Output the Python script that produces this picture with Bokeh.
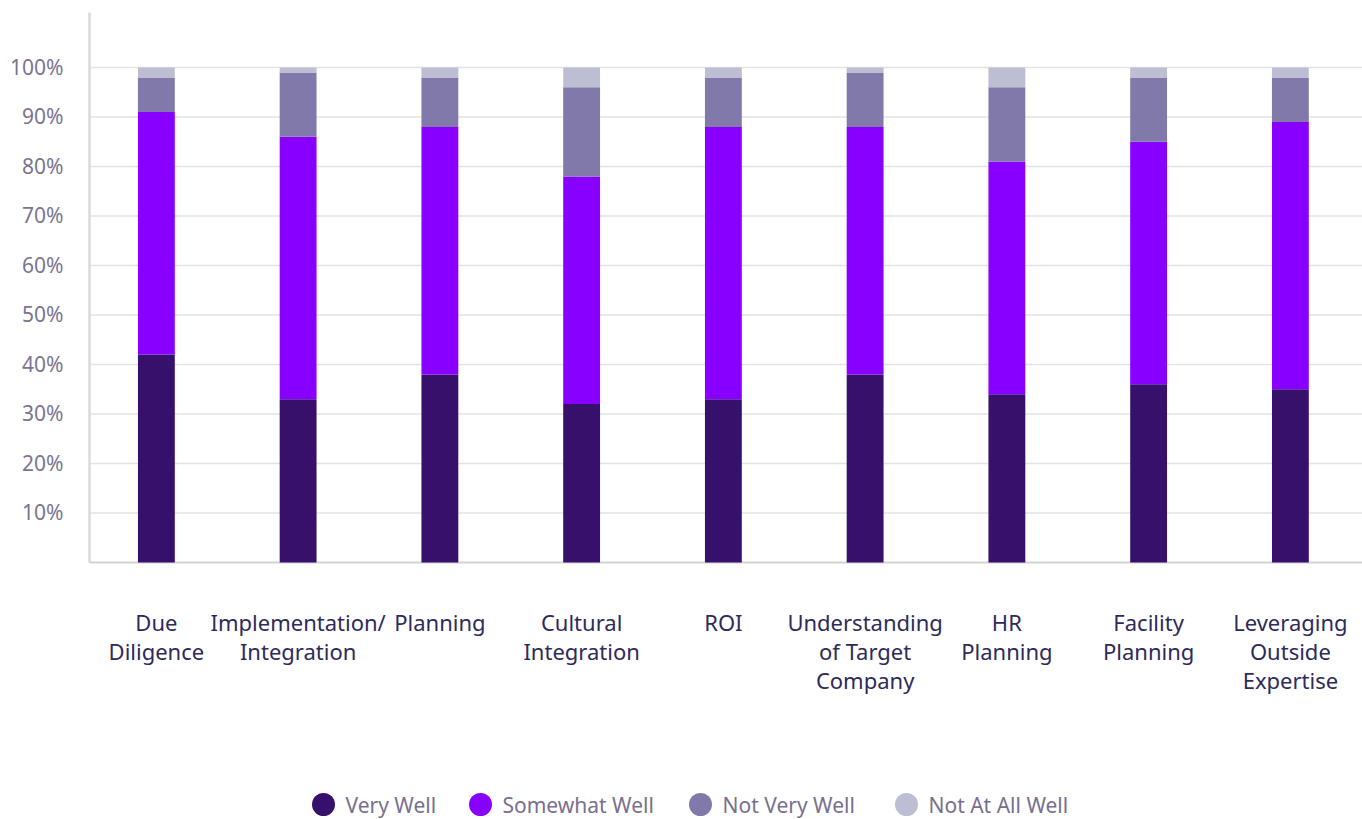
from bokeh.plotting import figure
from bokeh.models import Range1d, ColumnDataSource
from bokeh.core.properties import value
from bokeh.embed import file_html
from bokeh.resources import INLINE

# ---------------- data ----------------
categories = ["Due\nDiligence", "Implementation/\nIntegration", "Planning",
              "Cultural\nIntegration", "ROI", "Understanding\nof Target\nCompany",
              "HR\nPlanning", "Facility\nPlanning", "Leveraging\nOutside\nExpertise"]
very_well = [42, 33, 38, 32, 33, 38, 34, 36, 35]
somewhat_well = [49, 53, 50, 46, 55, 50, 47, 49, 54]
not_very_well = [7, 13, 10, 18, 10, 11, 15, 13, 9]
not_at_all_well = [2, 1, 2, 4, 2, 1, 4, 2, 2]
series_names = ["Very Well", "Somewhat Well", "Not Very Well", "Not At All Well"]
y_ticks = [10, 20, 30, 40, 50, 60, 70, 80, 90, 100]
y_tick_labels = [f"{t}%" for t in y_ticks]

# ---------------- style / layout ----------------
series_keys = ["very_well", "somewhat_well", "not_very_well", "not_at_all_well"]
colors = ["#37106b", "#8800ff", "#8179a9", "#bdbdd3"]
FONT = "Noto Sans"
W, H = 1362, 819
CAT_ORIGIN_PX = 85       # x pixel where the first category slot starts
AXIS_PX = 89             # x pixel of the value axis line
ZERO_PX = 562            # y pixel of 0%
PX_PER_UNIT_Y = 4.95     # pixels per percentage point
PX_PER_CAT = 141.75
TOP_PCT = (ZERO_PX - 12) / PX_PER_UNIT_Y   # axis line top

n = len(categories)
xs = [i + 0.5 for i in range(n)]
axis_x = (AXIS_PX - CAT_ORIGIN_PX) / PX_PER_CAT
right_x = (W - CAT_ORIGIN_PX) / PX_PER_CAT

src = ColumnDataSource(dict(x=xs, very_well=very_well, somewhat_well=somewhat_well,
                            not_very_well=not_very_well, not_at_all_well=not_at_all_well,
                            label=categories))

p = figure(width=W, height=H, output_backend="svg", toolbar_location=None,
           x_axis_location=None, y_axis_location=None,
           x_range=Range1d(-CAT_ORIGIN_PX / PX_PER_CAT, right_x),
           y_range=Range1d(-(H - ZERO_PX) / PX_PER_UNIT_Y, ZERO_PX / PX_PER_UNIT_Y),
           min_border=0)
p.outline_line_color = None
p.xgrid.visible = False
p.ygrid.visible = False

# gridlines
p.segment(x0=axis_x, x1=right_x, y0=y_ticks, y1=y_ticks, line_color="#e3e3e3", line_width=1.5)
# baseline
p.segment(x0=[axis_x], x1=[right_x], y0=[0], y1=[0], line_color="#d3d3d3", line_width=2)
# value axis line
p.segment(x0=[axis_x], x1=[axis_x], y0=[0], y1=[TOP_PCT], line_color="#dadada", line_width=2.5)

# stacked bars
p.vbar_stack(series_keys, x="x", width=0.26, source=src, color=colors, line_color=None)

# y tick labels
p.text(x=[axis_x] * len(y_ticks), y=y_ticks, text=y_tick_labels, x_offset=-26, y_offset=-1,
       text_align="right", text_baseline="alphabetic",
       text_font=value(FONT), text_font_size="21px", text_color="#7a7592")

# category labels
p.text(x="x", y=0, text="label", source=src, y_offset=44,
       text_align="center", text_baseline="top", text_line_height=0.98,
       text_font=value(FONT), text_font_size="22px", text_color="#2e2a5c")

# legend (circle markers + labels), positioned in screen pixels
legend_px = [323, 480, 700, 906]
legend_y = -(804 - ZERO_PX) / PX_PER_UNIT_Y
leg_x = [(px - CAT_ORIGIN_PX) / PX_PER_CAT for px in legend_px]
p.scatter(x=leg_x, y=[legend_y] * 4, marker="circle", size=23,
          fill_color=colors, line_color=None)
p.text(x=leg_x, y=[legend_y] * 4, text=series_names, x_offset=22,
       text_align="left", text_baseline="middle",
       text_font=value(FONT), text_font_size="21px", text_color="#77708f")

open("out.html", "w").write(file_html(p, INLINE))
